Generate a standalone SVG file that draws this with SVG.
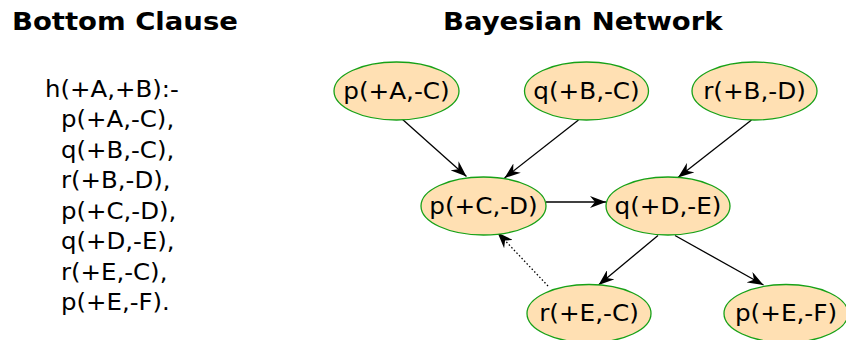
<svg xmlns="http://www.w3.org/2000/svg" width="846" height="340" viewBox="0 0 846 340">
  <style>
    .title { font-family: "DejaVu Sans", sans-serif; font-weight: bold; font-size: 25px; fill: #000;
             transform-box: fill-box; transform-origin: left; transform: scaleX(1.1); }
    .clause text { font-family: "DejaVu Sans", sans-serif; font-size: 23.5px; fill: #000;
             transform-box: fill-box; transform-origin: left; transform: scaleX(1.04); }
    .node ellipse { fill: #ffe0b3; stroke: #17a117; stroke-width: 1.3; }
    .node text { font-family: "DejaVu Sans", sans-serif; font-size: 23.5px; fill: #000; text-anchor: middle;
             transform-box: fill-box; transform-origin: center; transform: scaleX(1.05); }
    .edge { stroke: #000; stroke-width: 1.3; fill: none; marker-end: url(#vee); }
    .dotted { stroke-dasharray: 1.5 2.2; }
  </style>
  <defs>
    <marker id="vee" viewBox="0 0 16 12" refX="16" refY="6" markerUnits="userSpaceOnUse" markerWidth="16" markerHeight="12" orient="auto">
      <path d="M0,0 L16,6 L0,12 L5,6 Z" fill="#000"/>
    </marker>
  </defs>
  <rect width="846" height="340" fill="#fff"/>

  <!-- left column: the clause -->
  <text class="title" x="12" y="30">Bottom Clause</text>
  <g id="clause" class="clause">
    <text x="45" y="96.7">h(+A,+B):-</text>
    <text x="61" y="127.2">p(+A,-C),</text>
    <text x="61" y="157.7">q(+B,-C),</text>
    <text x="61" y="188.2">r(+B,-D),</text>
    <text x="61" y="218.7">p(+C,-D),</text>
    <text x="61" y="249.2">q(+D,-E),</text>
    <text x="61" y="279.7">r(+E,-C),</text>
    <text x="61" y="310.2">p(+E,-F).</text>
  </g>

  <!-- right column: the network -->
  <text class="title" x="443" y="30">Bayesian Network</text>

  <g id="edges">
    <line class="edge" x1="401.5" y1="118.5" x2="466.5" y2="176.5"/>
    <line class="edge" x1="578.5" y1="120" x2="504.5" y2="178"/>
    <line class="edge" x1="751.5" y1="120" x2="678" y2="177.5"/>
    <line class="edge" x1="546" y1="202" x2="606" y2="202"/>
    <line class="edge" x1="658" y1="235.5" x2="598.5" y2="285"/>
    <line class="edge" x1="675" y1="235.5" x2="763.5" y2="285"/>
    <line class="edge dotted" x1="548" y1="286" x2="497.5" y2="232.5"/>
  </g>

  <g id="n_pAC" class="node">
    <ellipse cx="396.5" cy="91" rx="62.5" ry="29"/>
    <text x="396.5" y="99">p(+A,-C)</text>
  </g>
  <g id="n_qBC" class="node">
    <ellipse cx="586.5" cy="91" rx="62" ry="29"/>
    <text x="586.5" y="99">q(+B,-C)</text>
  </g>
  <g id="n_rBD" class="node">
    <ellipse cx="754.5" cy="91" rx="62.5" ry="29"/>
    <text x="754.5" y="99">r(+B,-D)</text>
  </g>
  <g id="n_pCD" class="node">
    <ellipse cx="483.5" cy="206" rx="62.5" ry="29"/>
    <text x="483.5" y="214">p(+C,-D)</text>
  </g>
  <g id="n_qDE" class="node">
    <ellipse cx="668" cy="206" rx="62" ry="29"/>
    <text x="668" y="214">q(+D,-E)</text>
  </g>
  <g id="n_rEC" class="node">
    <ellipse cx="589" cy="313.5" rx="62" ry="29"/>
    <text x="589" y="321.5">r(+E,-C)</text>
  </g>
  <g id="n_pEF" class="node">
    <ellipse cx="786" cy="313.5" rx="62" ry="29"/>
    <text x="786" y="321.5">p(+E,-F)</text>
  </g>
</svg>
